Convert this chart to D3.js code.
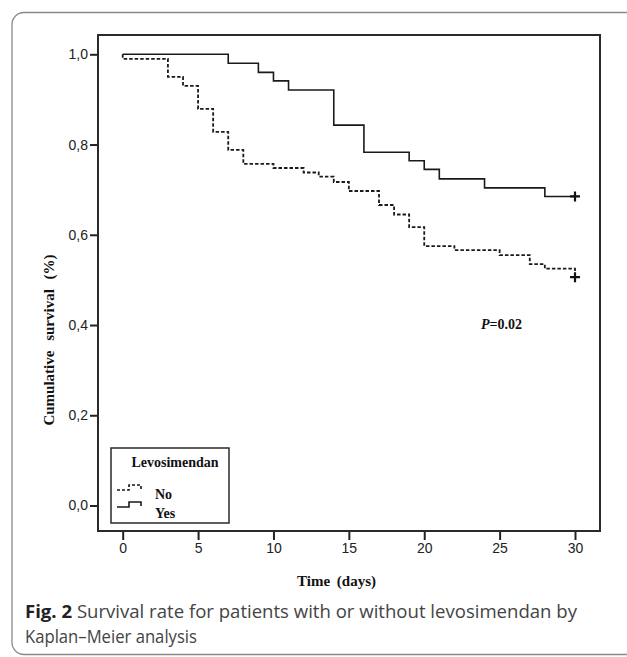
<!DOCTYPE html>
<html>
<head>
<meta charset="utf-8">
<script src="https://cdn.jsdelivr.net/npm/d3@7"></script>
<style>
  body { margin: 0; background: #fff; }
  svg { display: block; }
</style>
</head>
<body>
<div id="chart"></div>
<script>
'use strict'

// Kaplan-Meier steps
const yesTime = [0, 7, 9, 10, 11, 14, 16, 19, 20, 21, 24, 28, 30]
const yesSurv = [1.0, 0.980, 0.960, 0.941, 0.921, 0.843, 0.783, 0.764, 0.745, 0.724, 0.704, 0.685, 0.685]

const noTime = [0, 0, 3, 4, 5, 6, 7, 8, 10, 12, 13, 14, 15, 17, 18, 19, 20, 22, 25, 27, 28, 30]
const noSurv = [1.0, 0.990, 0.950, 0.930, 0.879, 0.828, 0.788, 0.757, 0.748, 0.738, 0.729, 0.717, 0.697,
  0.666, 0.645, 0.617, 0.575, 0.566, 0.555, 0.535, 0.525, 0.506]

const xTicks = [0, 5, 10, 15, 20, 25, 30]
const yTicks = [0, 0.2, 0.4, 0.6, 0.8, 1.0]
const groups = ['No', 'Yes']

const width = 627
const height = 657

const frame = { left: 98, top: 35, right: 600, bottom: 531 }

const svg = d3.select('#chart').append('svg')
  .attr('width', width)
  .attr('height', height)

// outer rounded panel
svg.append('rect')
  .attr('x', 12)
  .attr('y', 12.5)
  .attr('width', 640)
  .attr('height', 642)
  .attr('rx', 12)
  .attr('fill', 'none')
  .attr('stroke', '#8a8a8a')
  .attr('stroke-width', 1.3)

const x = d3.scaleLinear()
  .domain([0, 30])
  .range([122.7, 575])

const y = d3.scaleLinear()
  .domain([0, 1])
  .range([505.5, 54.3])

const yAxis = d3.axisLeft(y)
  .tickValues(yTicks)
  .tickSize(8)
  .tickPadding(2)
  .tickFormat(d => d3.format('.1f')(d).replace('.', ','))

const xAxis = d3.axisBottom(x)
  .tickValues(xTicks)
  .tickSize(9)
  .tickPadding(3)

const gy = svg.append('g')
  .attr('transform', `translate(${frame.left},0)`)
  .call(yAxis)
gy.select('.domain').remove()

const gx = svg.append('g')
  .attr('transform', `translate(0,${frame.bottom})`)
  .call(xAxis)
gx.select('.domain').remove()

svg.selectAll('.tick line')
  .attr('stroke', '#222')
  .attr('stroke-width', 2)
svg.selectAll('.tick text')
  .attr('fill', '#222')
  .style('font-family', '"Liberation Sans", Arial, sans-serif')
  .style('font-size', '14px')

// plot frame
svg.append('rect')
  .attr('x', frame.left)
  .attr('y', frame.top)
  .attr('width', frame.right - frame.left)
  .attr('height', frame.bottom - frame.top)
  .attr('fill', 'none')
  .attr('stroke', '#2a2a2a')
  .attr('stroke-width', 2)

const line = d3.line()
  .x(d => x(d[0]))
  .y(d => y(d[1]))
  .curve(d3.curveStepAfter)

const noData = noTime.map((t, i) => [t, noSurv[i]])
const yesData = yesTime.map((t, i) => [t, yesSurv[i]])

svg.append('path')
  .datum(noData)
  .attr('d', line)
  .attr('fill', 'none')
  .attr('stroke', '#1a1a1a')
  .attr('stroke-width', 1.8)
  .attr('stroke-dasharray', '3.5,2')

svg.append('path')
  .datum(yesData)
  .attr('d', line)
  .attr('fill', 'none')
  .attr('stroke', '#1a1a1a')
  .attr('stroke-width', 1.6)

// censor marks at the end of follow-up
const censored = [noData[noData.length - 1], yesData[yesData.length - 1]]
censored.forEach(function (d) {
  const cx = x(d[0])
  const cy = y(d[1])
  svg.append('path')
    .attr('d', `M${cx - 5},${cy}H${cx + 5}M${cx},${cy - 5}V${cy + 5}`)
    .attr('stroke', '#111')
    .attr('stroke-width', 2.2)
})

const serif = '"Liberation Serif", "Times New Roman", serif'

svg.append('text')
  .attr('x', 481)
  .attr('y', 329)
  .style('font-family', serif)
  .style('font-size', '14px')
  .style('font-weight', 'bold')
  .attr('fill', '#111')
  .html('<tspan font-style="italic">P</tspan>=0.02')

// axis titles
svg.append('text')
  .attr('x', 336.5)
  .attr('y', 586)
  .attr('text-anchor', 'middle')
  .style('font-family', serif)
  .style('font-size', '15px')
  .style('font-weight', 'bold')
  .style('word-spacing', '3px')
  .attr('fill', '#111')
  .text('Time (days)')

svg.append('text')
  .attr('transform', 'translate(54,340) rotate(-90)')
  .attr('text-anchor', 'middle')
  .style('font-family', serif)
  .style('font-size', '15px')
  .style('font-weight', 'bold')
  .style('word-spacing', '6px')
  .attr('fill', '#111')
  .text('Cumulative survival (%)')

// legend
const lg = svg.append('g')
lg.append('rect')
  .attr('x', 111)
  .attr('y', 448)
  .attr('width', 118)
  .attr('height', 75)
  .attr('fill', '#fff')
  .attr('stroke', '#2a2a2a')
  .attr('stroke-width', 1.5)

lg.append('text')
  .attr('x', 175)
  .attr('y', 467)
  .attr('text-anchor', 'middle')
  .style('font-family', serif)
  .style('font-size', '14px')
  .style('font-weight', 'bold')
  .attr('fill', '#111')
  .text('Levosimendan')

const symbolY = [490, 507]
lg.selectAll('.sym')
  .data(groups)
  .enter()
  .append('path')
    .attr('class', 'sym')
    .attr('d', (d, i) => `M117,${symbolY[i]}H129V${symbolY[i] - 5}H141V${symbolY[i] - 1}`)
    .attr('fill', 'none')
    .attr('stroke', '#1a1a1a')
    .attr('stroke-width', 1.6)
    .attr('stroke-dasharray', d => d === 'No' ? '3,2' : null)

lg.selectAll('.lab')
  .data(groups)
  .enter()
  .append('text')
    .attr('class', 'lab')
    .attr('x', 155)
    .attr('y', (d, i) => [499, 518][i])
    .style('font-family', serif)
    .style('font-size', '14px')
    .style('font-weight', 'bold')
    .attr('fill', '#111')
    .text(d => d)

// figure caption
const sans = '"Open Sans", "Noto Sans", sans-serif'
svg.append('text')
  .attr('x', 25)
  .attr('y', 618)
  .attr('textLength', 552)
  .attr('lengthAdjust', 'spacingAndGlyphs')
  .style('font-family', sans)
  .style('font-size', '18px')
  .attr('fill', '#444')
  .html('<tspan font-weight="bold" fill="#222">Fig. 2</tspan>  Survival rate for patients with or without levosimendan by')

svg.append('text')
  .attr('x', 25)
  .attr('y', 643)
  .attr('textLength', 172)
  .attr('lengthAdjust', 'spacingAndGlyphs')
  .style('font-family', sans)
  .style('font-size', '18px')
  .attr('fill', '#444')
  .text('Kaplan\u2013Meier analysis')
</script>
</body>
</html>
